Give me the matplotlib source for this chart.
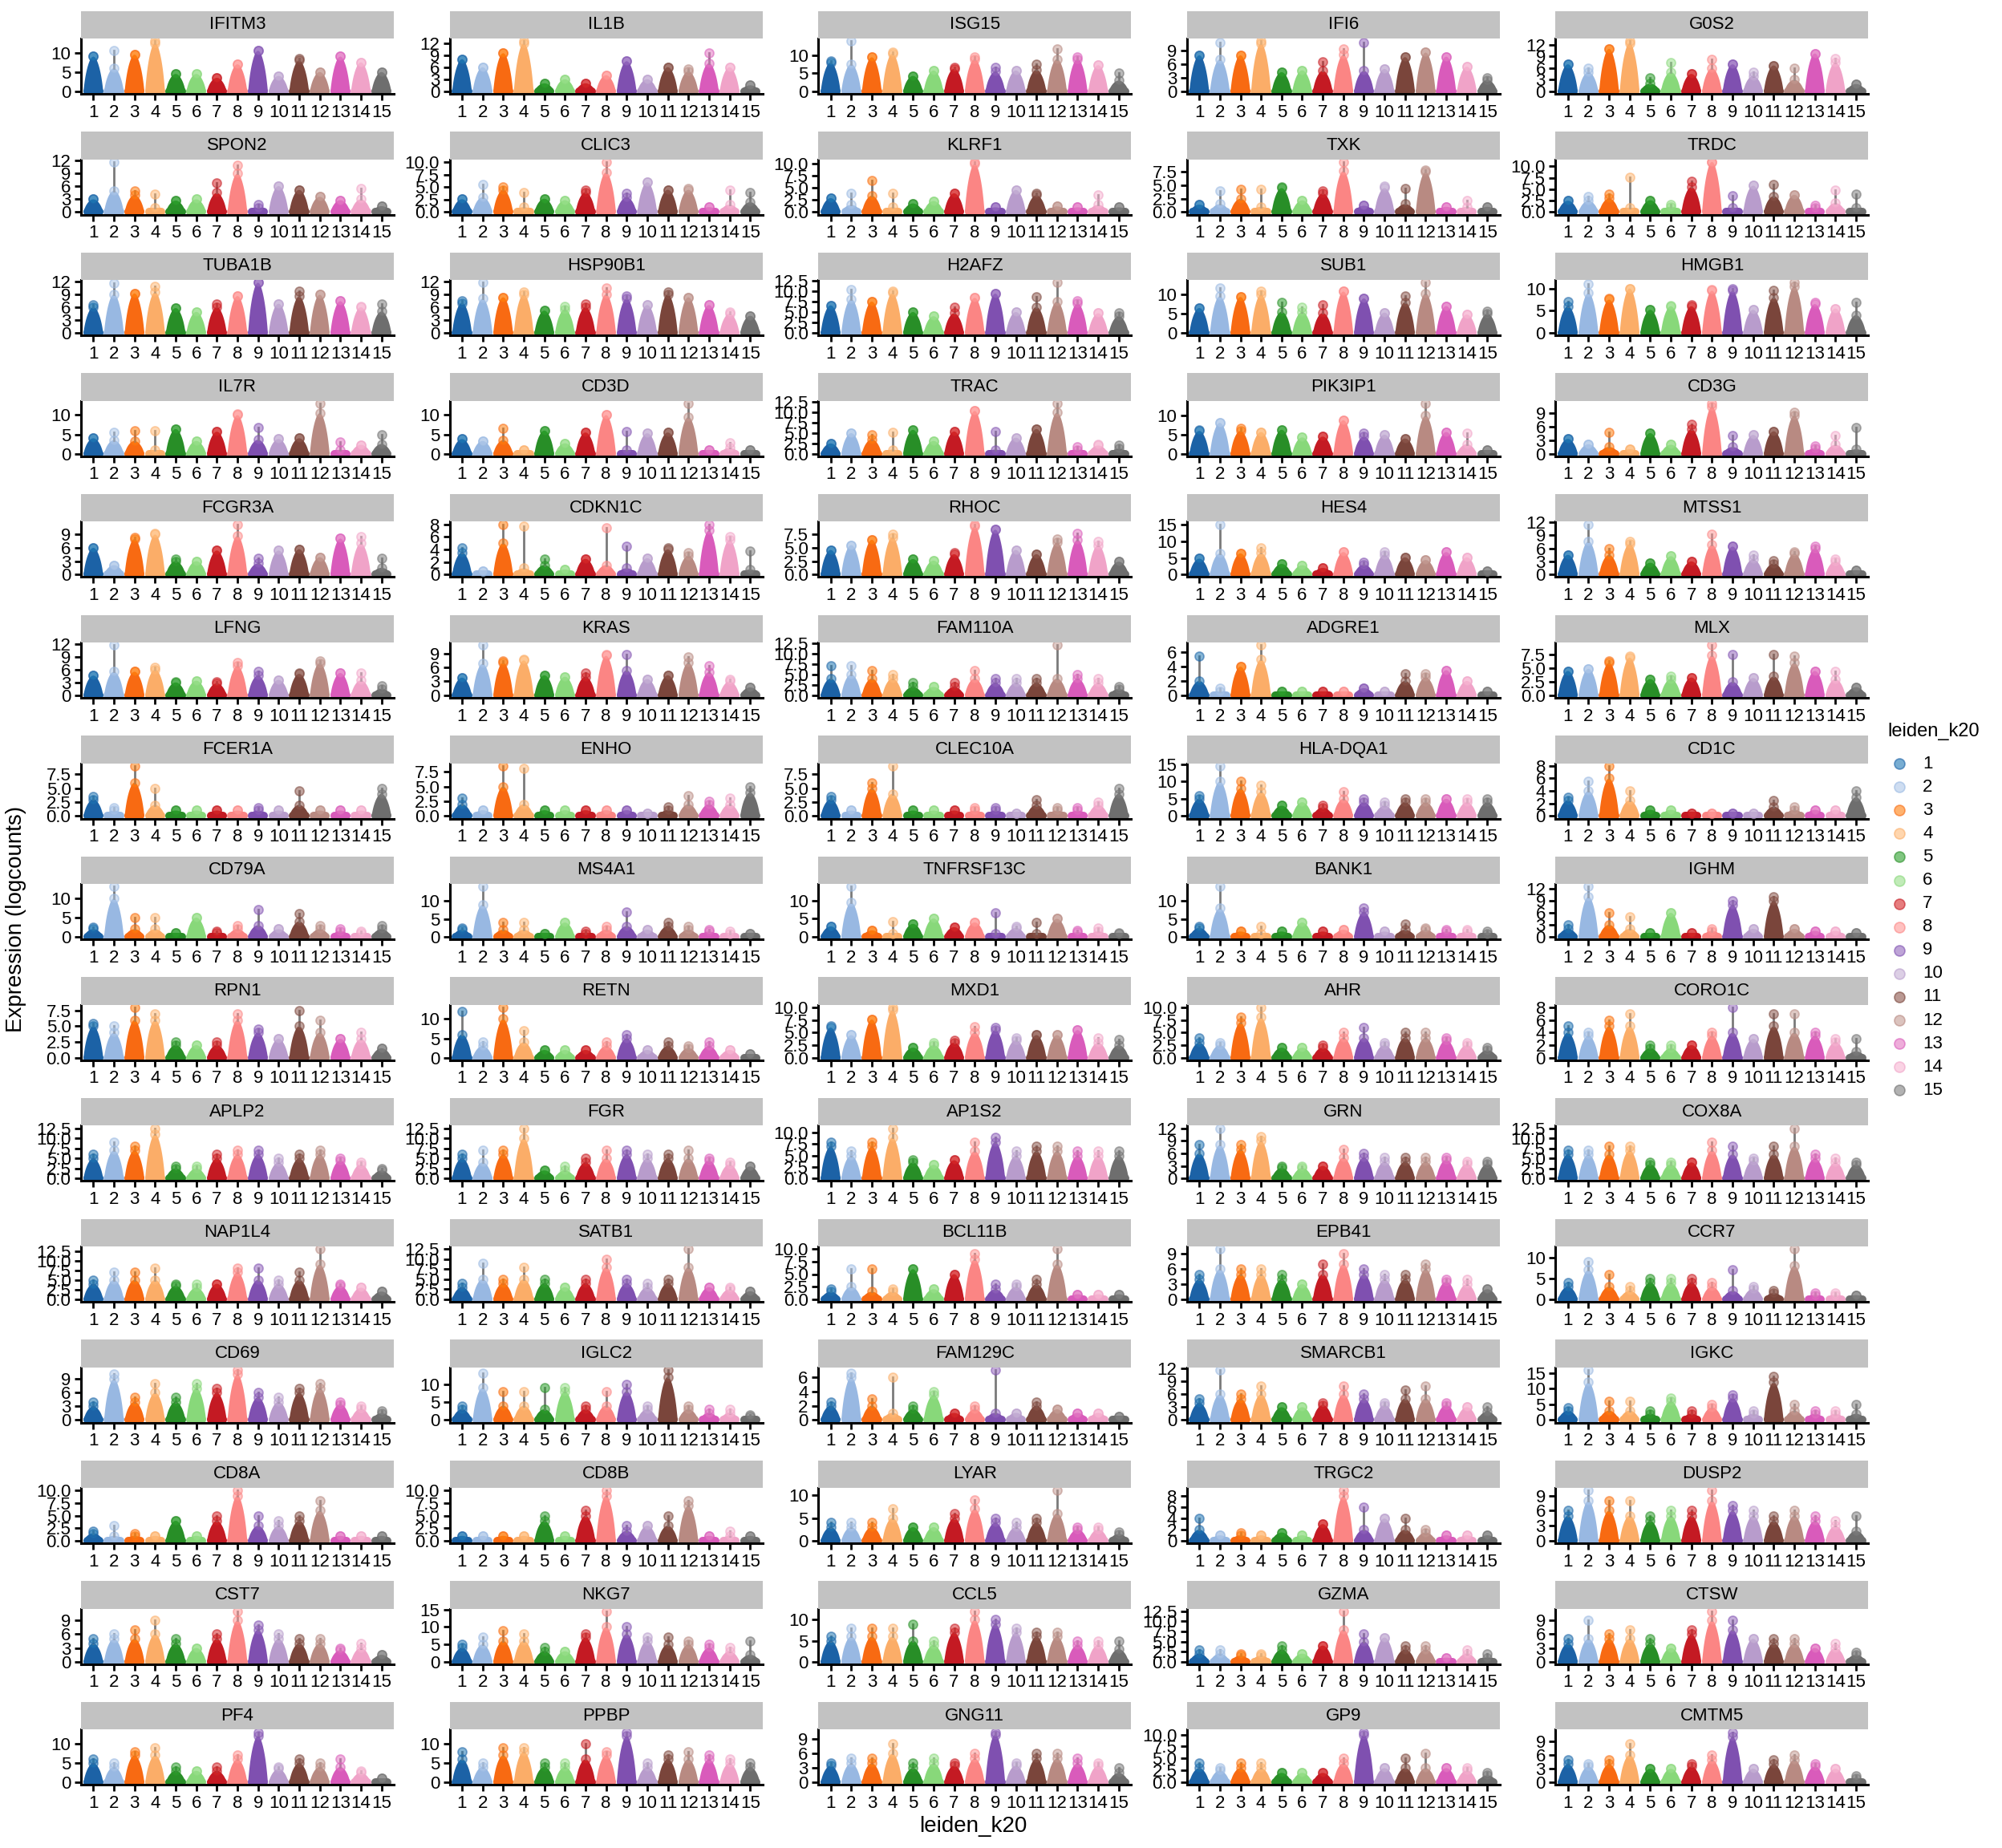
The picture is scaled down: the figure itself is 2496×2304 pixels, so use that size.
import matplotlib
matplotlib.use("Agg")
import matplotlib.pyplot as plt
import numpy as np
from matplotlib.ticker import MultipleLocator, FormatStrFormatter

plt.rcParams['font.family'] = ['Liberation Sans', 'DejaVu Sans']

# === Data ===
clusters = [str(i) for i in range(1, 16)]

genes = ["IFITM3", "IL1B", "ISG15", "IFI6", "G0S2",
         "SPON2", "CLIC3", "KLRF1", "TXK", "TRDC",
         "TUBA1B", "HSP90B1", "H2AFZ", "SUB1", "HMGB1",
         "IL7R", "CD3D", "TRAC", "PIK3IP1", "CD3G",
         "FCGR3A", "CDKN1C", "RHOC", "HES4", "MTSS1",
         "LFNG", "KRAS", "FAM110A", "ADGRE1", "MLX",
         "FCER1A", "ENHO", "CLEC10A", "HLA-DQA1", "CD1C",
         "CD79A", "MS4A1", "TNFRSF13C", "BANK1", "IGHM",
         "RPN1", "RETN", "MXD1", "AHR", "CORO1C",
         "APLP2", "FGR", "AP1S2", "GRN", "COX8A",
         "NAP1L4", "SATB1", "BCL11B", "EPB41", "CCR7",
         "CD69", "IGLC2", "FAM129C", "SMARCB1", "IGKC",
         "CD8A", "CD8B", "LYAR", "TRGC2", "DUSP2",
         "CST7", "NKG7", "CCL5", "GZMA", "CTSW",
         "PF4", "PPBP", "GNG11", "GP9", "CMTM5"]

tick_step = [5, 3, 5, 3, 3,
             3, 2.5, 2.5, 2.5, 2.5,
             3, 3, 2.5, 5, 5,
             5, 5, 2.5, 5, 3,
             3, 2, 2.5, 5, 3,
             3, 3, 2.5, 2, 2.5,
             2.5, 2.5, 2.5, 5, 2,
             5, 5, 5, 5, 3,
             2.5, 5, 2.5, 2.5, 2,
             2.5, 2.5, 2.5, 3, 2.5,
             2.5, 2.5, 2.5, 3, 5,
             3, 5, 2, 3, 5,
             2.5, 2.5, 5, 2, 3,
             3, 5, 5, 2.5, 3,
             5, 5, 3, 2.5, 3]

# highest expression value per cluster (top point)
top_expr = [
    [9, 10.5, 9.5, 13, 4.5, 4.5, 3.5, 7, 10.5, 4, 8.5, 5, 9, 7.5, 5],
    [8, 6, 9.5, 12.5, 2, 3, 2, 4, 7.5, 3, 6, 5.5, 9.5, 6, 1.5],
    [8.4, 14, 9.5, 11, 4.3, 5.8, 6.7, 9.6, 6.7, 5.8, 7.6, 11.9, 9.5, 7.3, 5],
    [7.9, 10.6, 7.9, 11, 4.2, 4.6, 6.5, 9.2, 10.6, 4.9, 7.5, 8.5, 7.6, 5.4, 3],
    [7, 6, 11, 13, 3.5, 7.5, 4.5, 8.3, 7, 5, 6.7, 6, 9.8, 8.5, 1.9],
    [3, 11.75, 4.9, 4.25, 2.7, 3, 6.9, 11, 1.75, 6.1, 5.2, 3.6, 2.8, 5.6, 1.4],
    [2.6, 5.5, 5, 3.9, 2.7, 2.4, 4.4, 10.1, 3.8, 6, 4.5, 4.7, 1, 4.4, 3.9],
    [2.9, 3.9, 6.5, 3.9, 1.8, 2.3, 3.9, 10.4, 1, 4.6, 3.9, 1.2, 1, 3.5, 1],
    [1.4, 3.9, 4.3, 4.3, 4.7, 2.2, 3.9, 9.4, 1.2, 4.8, 4.4, 7.9, 1, 2.2, 1],
    [2.5, 3.5, 4, 7.6, 2.6, 1.7, 6.8, 11, 3.6, 5.8, 6, 3.8, 1.4, 4.9, 3.9],
    [6.5, 11.5, 9.2, 10.8, 5.8, 4.9, 6.8, 8.6, 11.7, 6.8, 9.8, 8.9, 7.4, 6.2, 6.8],
    [7.4, 11.7, 8.3, 9.5, 5.2, 6.2, 6.8, 10.5, 8.6, 6.5, 9.5, 8.3, 6.5, 4.9, 4],
    [6.6, 10.4, 7.5, 10, 5, 4, 6.2, 8.4, 9.4, 5, 8.6, 12, 7.7, 4.7, 4.8],
    [6.5, 11.7, 9.4, 10.8, 8, 6.8, 7.4, 10.8, 9, 5.3, 9.7, 13.1, 7, 4.8, 5.7],
    [7, 11, 7.8, 10, 5.2, 6.2, 6.3, 9.7, 10, 5.2, 9.5, 11.3, 6.8, 5.5, 6.9],
    [4, 5.5, 6, 5.9, 6.4, 3.3, 5.7, 10.3, 6.7, 3.8, 4, 13, 3.1, 2.3, 4.9],
    [3.8, 3.3, 6.5, 1, 6, 2.7, 5.5, 10, 5.8, 5.3, 5.5, 13, 1, 2.8, 1],
    [2.5, 5, 4.6, 5.1, 5.8, 3.1, 5.4, 10.4, 5.4, 3.9, 6, 12.2, 1.7, 2.3, 2],
    [6.3, 8.1, 6.7, 5.7, 6.3, 4.3, 4.5, 8.8, 5.3, 5, 4, 13.2, 5.7, 5.3, 1],
    [3.3, 2.1, 4.7, 1, 4.6, 2, 6.6, 11.2, 4, 4.2, 5, 9.3, 1.7, 4.1, 5.9],
    [6, 2.1, 8.4, 9.3, 3.5, 3, 5.4, 11.3, 3.7, 5.4, 5.7, 3.9, 8.1, 8.5, 3.7],
    [4.25, 0.5, 8, 7.7, 2.5, 0.8, 2.5, 7.4, 4.5, 2.6, 4.2, 3.5, 7.9, 6, 3.7],
    [4.6, 5.5, 6.5, 7.5, 2.9, 2.6, 4.1, 9.4, 8.4, 4.6, 3.8, 6.6, 7.7, 6.2, 2.4],
    [4.8, 15.2, 6.4, 8, 3.2, 2.8, 2, 6.8, 3.6, 6.8, 5.2, 4.4, 6.8, 5.2, 1],
    [4.5, 11.5, 5.9, 7.6, 2.7, 4.2, 3, 9.2, 6.4, 4.5, 3.2, 5.2, 6.4, 3.5, 1],
    [4.6, 11.7, 5.5, 6.5, 3.2, 3.4, 3.2, 7.7, 5.5, 3.6, 5.2, 8, 5.2, 5.2, 2.2],
    [3.8, 10.8, 7.4, 7.7, 4.3, 4, 4.8, 8.8, 8.8, 3.5, 4.3, 8.2, 6.4, 3.5, 1.7],
    [7, 7, 6, 5, 3, 2, 3, 6, 4, 4, 4, 12, 5, 4, 2],
    [5.5, 1, 4, 7, 0.5, 0.5, 0.5, 0.5, 1, 0.5, 3, 3, 3.5, 2, 0.5],
    [4.5, 4.9, 6.4, 7.2, 3, 3.5, 3.3, 9.3, 7.5, 3.2, 7.6, 7.2, 4.5, 4.5, 1.5],
    [3.5, 1.5, 9, 5, 1, 1, 1, 1, 1.5, 1, 4.5, 1, 1, 1, 5],
    [3, 1, 8.5, 8, 1, 1, 1, 1, 1, 0.5, 1.5, 3.5, 2.5, 3, 5],
    [3.5, 1, 6, 9, 1, 1, 1, 1.5, 1.5, 0.5, 3, 1.5, 1.5, 2.5, 5],
    [6, 14.5, 10, 9, 3, 4, 3, 7, 5, 4, 5, 5, 5, 5, 5],
    [3, 5.5, 8, 4, 1, 1, 0.5, 0.5, 0.5, 0.5, 2.5, 1.5, 1, 1, 4],
    [2.5, 13, 5, 5, 1, 5, 1.5, 3, 7, 2, 6, 3, 2, 1.5, 3],
    [2.5, 14, 4, 4, 1, 4, 1.5, 3, 7, 2, 4, 3, 2, 1.5, 1],
    [2.9, 13.9, 1.8, 4.2, 3.6, 5.1, 2.7, 4, 6.6, 2.9, 4, 5, 1.8, 2.4, 1.1],
    [3, 14, 1.5, 3, 1.5, 4, 1.5, 2, 8, 1.5, 3.5, 2.5, 2, 2, 1.5],
    [3, 12.5, 6, 5, 1, 6, 1, 2, 9, 2, 10, 2, 1.5, 1.5, 1],
    [5.5, 5, 8, 7, 2.5, 2, 2.5, 7, 4.5, 3, 7.5, 6, 3, 4, 1.5],
    [12, 4, 13, 7, 2, 2, 2, 4, 6, 2, 4, 3, 4, 2, 1],
    [6.3, 4.5, 7.6, 10, 2, 2.9, 3.5, 6.2, 6, 3.9, 4.5, 4.5, 5.5, 4, 3.6],
    [4, 3, 8, 10, 2, 2, 2.5, 5, 6, 3, 5, 5, 4, 3, 2],
    [5, 4, 6, 7, 2, 2, 2, 4, 8, 3, 7, 7, 4, 3, 3],
    [6, 9, 8, 12.5, 3, 3, 6, 7, 7, 5, 6, 7, 5, 4, 2.5],
    [6, 7, 7, 12.5, 2, 3, 5, 7, 7, 6, 6, 7, 5, 4, 3],
    [8, 6, 8, 11, 4, 3, 4, 8, 9, 6, 7, 7, 6, 6, 6],
    [8, 12, 8, 10, 3, 3, 3, 7, 6, 5, 5, 5, 5, 4, 4],
    [7, 7, 8, 8, 4, 4, 4, 9, 8, 5, 8, 12.5, 6, 5, 4],
    [5, 7, 7, 8, 4, 4, 4, 8, 8, 5, 7, 13, 4, 3, 2],
    [4, 9, 5, 8, 5, 3, 5, 10, 5, 4, 5, 12.5, 3, 3, 2],
    [2, 6, 6, 2, 6, 2, 5, 9, 3, 3, 4, 10, 1, 1, 1],
    [5, 10, 6, 6, 5, 3, 7, 9, 6, 5, 5, 7, 4, 4, 2],
    [4, 9, 6, 3, 5, 5, 5, 4, 7, 3, 2, 12, 1.5, 1.5, 1],
    [4, 10, 5, 8, 5, 8, 7, 11, 6, 5, 7, 8, 4, 3, 2],
    [4, 13, 8, 8, 9, 9, 4, 8, 10, 4, 14, 4, 3, 3, 1.5],
    [2.5, 6.5, 3, 6, 2, 4, 1, 2, 7, 1, 2.5, 1.5, 1, 1, 0.5],
    [5, 11.7, 6, 8, 3, 3, 4, 8, 6, 4, 7, 8, 4, 3, 3],
    [4, 16, 6, 6, 3, 7, 3, 5, 8, 3, 14, 5, 3, 3, 5],
    [2, 3, 1.5, 1, 4, 1, 5, 10, 5, 4, 5, 8, 1, 1, 1],
    [1, 1, 1, 1, 5, 1, 6, 10, 3, 3, 5, 8, 1, 2, 1],
    [4, 4, 4, 7, 3, 3, 6, 9, 5, 4, 5, 11, 3, 3, 2],
    [4, 1, 1.5, 1, 1.5, 1, 3, 9, 6, 4, 4, 2, 1, 1, 1],
    [6, 10, 8, 8, 5, 6, 6, 10, 7, 6, 5, 6, 5, 4, 5],
    [5, 6, 7, 9, 5, 3, 6, 11, 8, 6, 5, 5, 3, 4, 1.5],
    [5, 7, 9, 8, 4, 3, 8, 14.5, 10, 7, 7, 6, 5, 4, 6],
    [6, 8, 8, 8, 9, 5, 8, 12, 10, 8, 7, 7, 5, 5, 5],
    [3, 3, 2, 2, 4, 2, 4, 12.5, 7, 6, 4, 4, 1, 3, 2],
    [5, 9, 6, 7, 5, 3, 7, 11, 9, 5, 5, 5, 3, 4, 2],
    [6, 5, 8, 9, 4, 3, 4, 7, 13, 4, 6, 5, 6, 3, 1],
    [8, 5, 9, 9, 5, 5, 10, 8, 13, 5, 7, 8, 7, 6, 5],
    [4, 5, 5, 8, 4, 5, 4, 6, 10.5, 4, 6, 6, 5, 4, 3],
    [4, 3, 4, 4, 2, 2, 2, 5, 10.5, 3, 5, 6, 3, 3, 2],
    [5, 4, 5, 8.5, 3, 3, 4, 6, 11, 3, 5, 6, 4, 3, 1.5],
]

# height reached by the filled violin body per cluster
body_expr = [
    [9, 6, 9.5, 12.5, 4.5, 4.5, 3.5, 7, 10.5, 4, 8, 5, 9, 7.5, 5],
    [8, 6, 9.5, 12, 2, 3, 2, 4, 7.5, 3, 6, 5, 7, 6, 1.5],
    [8, 7.6, 9.5, 10.5, 4.3, 5.8, 6.3, 9, 5.5, 5.8, 6, 9, 9, 7.3, 3],
    [7.9, 7, 7.9, 10.5, 4.2, 4.6, 4.5, 8, 4.5, 4.9, 7.5, 8.5, 7.6, 5.4, 2.5],
    [7, 5, 11, 12.5, 2, 5, 4.5, 6, 7, 4, 6.7, 3, 9.8, 7.5, 1.9],
    [3, 5, 4, 1, 2.7, 3, 4.5, 9, 1, 6.1, 5.2, 3.6, 2.8, 3, 1.4],
    [2.6, 3, 4.5, 1, 2.7, 2.4, 4, 8, 3, 6, 4.5, 4.5, 1, 1.5, 2],
    [2.9, 1.5, 3.4, 1, 1.8, 2.3, 3.9, 10, 1, 4.6, 3.5, 1.2, 1, 1.5, 1],
    [1.4, 1.5, 2.5, 1, 4.5, 2.2, 3.5, 7.7, 1.2, 4.5, 1.5, 7.5, 1, 1, 1],
    [2.5, 2.5, 3, 1, 2.6, 1.2, 5.5, 11, 1, 5.8, 3.5, 3.8, 1, 2, 1],
    [6, 9, 9.2, 9.5, 5.8, 4.9, 6, 8.6, 11.7, 6.8, 8.5, 8.9, 7.4, 6, 5],
    [7, 8, 8.3, 9, 5.2, 5.5, 6, 9, 8, 6.5, 9, 8.3, 6.5, 4.5, 4],
    [6.6, 8.1, 7.5, 9.5, 5, 4, 4.7, 8.4, 9.4, 5, 6.2, 7.5, 7, 4.7, 4],
    [6.5, 9.6, 9.4, 10, 5.5, 5.5, 5.2, 10.8, 9, 5.3, 8, 10.3, 7, 4.8, 5],
    [6, 9, 7.5, 10, 5.2, 6, 6, 9.5, 9.5, 5.2, 8, 10.5, 6.5, 5.5, 4],
    [4, 3.5, 3.3, 1, 6.4, 3.3, 5.7, 10, 3.6, 3.8, 4, 10.5, 1, 2.3, 2.5],
    [3.8, 3.3, 3.5, 1, 6, 2.7, 5.5, 10, 1, 5.3, 5.5, 9.5, 1, 1.5, 1],
    [2.5, 5, 3.5, 1, 5.8, 3.1, 5.4, 10.4, 1, 3.9, 6, 10, 1, 2, 1.2],
    [6, 8.1, 6, 5.7, 6.3, 4.3, 4.5, 8.8, 4.5, 5, 4, 10, 5.7, 2.5, 1],
    [3.3, 2.1, 1.5, 1, 4.6, 2, 5.5, 10.5, 1.5, 4.2, 5, 8.5, 1.2, 2, 1],
    [6, 2.1, 8, 9, 3, 3, 5.4, 8.7, 2.5, 5.4, 5.7, 3.9, 8.1, 7, 1.5],
    [3.5, 0.5, 5, 1, 1.5, 0.8, 2.5, 1.5, 1, 2.6, 4, 3, 7, 5.5, 0.8],
    [4.6, 5.5, 6.5, 7, 2.9, 2.6, 3.8, 9, 8.4, 4.6, 3.8, 6, 6.5, 5.5, 2.4],
    [4.8, 6.4, 6.4, 6.5, 3.2, 2.8, 2, 6.8, 3, 6, 5.2, 4.4, 6.8, 5.2, 1],
    [4.5, 7.6, 4.5, 7, 2.7, 4.2, 3, 6.8, 6.4, 3.5, 2.5, 4.8, 6, 3, 1],
    [4.6, 5.5, 5.5, 6, 3, 3.4, 2.8, 6.8, 4.6, 3.6, 5, 7.5, 5.2, 3.5, 1.5],
    [3.8, 6.8, 7, 7.5, 4.3, 4, 4, 8.5, 5.4, 3.5, 4.3, 7, 5, 3, 1.7],
    [4, 5, 4, 4, 2, 2, 2, 4, 3, 3, 3, 4, 4, 3, 1.5],
    [2, 0.5, 4, 5, 0.5, 0.5, 0.5, 0.5, 1, 0.5, 2, 2.5, 3.5, 2, 0.5],
    [4.5, 4.9, 6, 7, 3, 3, 3.3, 7.4, 2.5, 3.2, 3.5, 6, 4.5, 3, 1.5],
    [3, 1, 6, 2, 1, 1, 1, 1, 1, 1, 2, 1, 1, 1, 4],
    [2, 1, 5, 2, 1, 1, 1, 1, 1, 0.5, 1, 2, 2, 2, 4],
    [3, 1, 5, 4, 1, 1, 1, 1, 1, 0.5, 2, 1, 1, 2, 4],
    [5, 10, 8, 7, 3, 4, 2.5, 5, 4, 3, 4, 4, 5, 4, 4],
    [2.5, 4, 6, 2.5, 1, 1, 0.5, 0.5, 0.5, 0.5, 1.5, 1, 1, 1, 3],
    [2, 10, 2, 2, 1, 5, 1, 2, 3, 2, 4, 2, 1.5, 1, 2],
    [2, 9, 2, 2, 1, 4, 1, 2, 3, 2, 3, 2, 1.5, 1, 1],
    [2.9, 9.5, 1.8, 1, 3.6, 5.1, 2.7, 4, 1, 2.5, 1, 5, 1.3, 1.5, 1],
    [2.5, 8, 1.5, 1, 1.5, 4, 1.5, 2, 7, 1.5, 2, 2, 1.5, 1.5, 1],
    [2, 10, 3, 2, 1, 6, 1, 1.5, 8, 2, 9, 2, 1.5, 1.5, 1],
    [5, 4, 6, 6, 2, 2, 2, 6, 4, 3, 5, 4, 3, 3, 1.5],
    [6, 3, 10, 4, 2, 2, 2, 3, 5, 2, 3, 2.5, 3, 2, 1],
    [6, 4.5, 7.6, 9.5, 2, 2.5, 3, 5, 5.5, 3.5, 4.5, 4.5, 5.5, 3, 2.5],
    [3, 2.5, 7, 8, 2, 2, 2, 4, 4, 2.5, 4, 4, 3.5, 2.5, 1.5],
    [4, 3.5, 5, 5, 1.5, 1.5, 2, 3.5, 4, 3, 5, 4, 3.5, 2.5, 1],
    [5, 7, 7, 11, 2.5, 2.5, 5, 6, 6, 4, 5, 6, 4.5, 3.5, 2],
    [5, 4, 6, 10, 2, 2, 4, 5, 6, 5, 5, 5, 4.5, 3.5, 3],
    [7, 5, 7, 9, 3.5, 3, 4, 6, 8, 5, 6, 6, 5, 5, 5],
    [6, 8, 7, 9, 2.5, 2.5, 3, 5, 5, 4, 4, 4, 4.5, 3.5, 3.5],
    [6, 6, 6, 7, 3.5, 3.5, 4, 7, 6, 4.5, 6, 8, 5, 4, 3.5],
    [4, 5, 5, 5, 3.5, 3, 4, 7, 5, 4, 5, 9, 3.5, 3, 2],
    [3, 5, 4, 5, 4, 3, 4, 8, 4, 3, 4, 8, 3, 2.5, 2],
    [1.5, 2.5, 1.5, 1.5, 6, 2, 5, 8, 2, 2.5, 3, 7, 1, 1, 1],
    [4, 6, 5, 5, 4, 3, 5, 7, 5, 4, 4, 6, 3.5, 3, 2],
    [3, 7, 3, 2, 4, 4, 4, 3, 2, 2.5, 1.5, 8, 1, 1, 1],
    [3, 9, 4, 6, 4, 7, 6, 10, 5, 4, 6, 7, 3.5, 2.5, 1.5],
    [3, 9, 4, 4, 3, 8, 3, 4, 8, 3, 12, 3, 2, 2, 1],
    [2, 6, 2, 1, 1.5, 3.5, 1, 1.5, 1, 1, 2, 1.5, 1, 1, 0.5],
    [4, 6, 5, 6, 3, 3, 3.5, 6, 5, 3.5, 5, 5, 3.5, 3, 2],
    [3, 12, 3, 3, 2, 6, 2, 4, 7, 2, 12, 3, 2, 2, 2],
    [1.5, 1, 1, 1, 4, 1, 4, 9, 3, 3, 4, 6, 1, 1, 1],
    [1, 1, 1, 1, 4, 1, 5, 9, 2, 3, 3, 7, 1, 1, 1],
    [3, 3, 3, 5, 3, 3, 5, 7, 4, 3, 4, 6, 2.5, 2.5, 1.5],
    [2, 1, 1, 1, 1.5, 1, 3, 8, 2, 4, 2, 1.5, 1, 1, 1],
    [5, 8, 6, 5, 4, 5, 5, 8, 6, 5, 4, 5, 4, 3, 2],
    [4, 5, 5, 6, 4, 3, 5, 9, 7, 5, 4, 4, 2.5, 3, 1.5],
    [4, 5, 6, 6, 3, 3, 7, 10, 8, 6, 5, 5, 4, 3, 2],
    [5, 6, 6, 6, 5, 4, 7, 10, 9, 7, 6, 6, 4, 4, 3],
    [2, 2, 1.5, 1.5, 3, 2, 4, 8, 5, 6, 3, 3, 1, 2, 1],
    [4, 5, 5, 5, 4, 3, 6, 9, 7, 5, 4, 4, 3, 3, 1.5],
    [5, 4, 7, 7, 3, 3, 3, 6, 12, 3.5, 5, 4, 4, 2.5, 1],
    [6, 4, 7, 8, 4, 4, 6, 7, 12, 4, 6, 6, 6, 5, 4],
    [3.5, 4, 4, 6, 3, 4, 3.5, 5, 10, 3.5, 5, 5, 4, 3.5, 2],
    [3, 2.5, 3, 3, 2, 2, 2, 4, 10, 3, 3, 3, 3, 2.5, 1.5],
    [4, 3.5, 4, 6, 3, 3, 3.5, 5, 10, 3, 4, 5, 3.5, 3, 1],
]

# === Colours ===
point_colors = ["#1f77b4", "#aec7e8", "#ff7f0e", "#ffbb78", "#2ca02c",
                "#98df8a", "#d62728", "#ff9896", "#9467bd", "#c5b0d5",
                "#8c564b", "#c49c94", "#e377c2", "#f7b6d2", "#7f7f7f"]
violin_colors = ["#1c62a6", "#98b8e2", "#f86a12", "#fbad68", "#288e27",
                 "#88d87a", "#c41a23", "#fb8584", "#7f50b0", "#b89ccc",
                 "#7a453b", "#b88a82", "#d95bbb", "#f0a3c8", "#6e6e6e"]

# === Layout (pixel units of the 2496x2304 output) ===
W, H = 2496, 2304
DPI = 200
fig = plt.figure(figsize=(W / DPI, H / DPI), dpi=DPI)

panel_w, panel_h, strip_h = 390, 69, 34.5
col_left = [101 + 459.6 * c for c in range(5)]
row_top = [48 + 150.6 * r for r in range(15)]


def px_rect(left, top, width, height):
    return [left / W, 1 - (top + height) / H, width / W, height / H]


def violin_body(xc, body):
    ys = np.linspace(0, body, 60)
    t = ys / body
    hw = 0.48 * (1 - 0.4 * t) * np.sqrt(np.clip(1 - t ** 3, 0, 1))
    xs = np.concatenate([xc - hw, (xc + hw)[::-1]])
    yy = np.concatenate([ys, ys[::-1]])
    return xs, yy


x_pos = np.arange(1, 16)

for g, gene in enumerate(genes):
    r, c = divmod(g, 5)
    left, top = col_left[c], row_top[r]
    ax = fig.add_axes(px_rect(left, top, panel_w, panel_h))
    tops = top_expr[g]
    bodies = body_expr[g]
    ymax = max(tops)

    for i in range(15):
        xc = x_pos[i]
        xs, yy = violin_body(xc, bodies[i])
        ax.fill(xs, yy, color=violin_colors[i], lw=0, zorder=2)
        # zero-count band
        ax.plot([xc - 0.3, xc + 0.3], [0, 0], color=violin_colors[i],
                lw=3.6, solid_capstyle='round', zorder=2)
        if tops[i] > bodies[i] + 0.3:
            ax.plot([xc, xc], [bodies[i], tops[i]], color='#7a7a7a',
                    lw=1.0, zorder=3)
        ax.scatter([xc, xc], [bodies[i], tops[i]], s=16,
                   color=point_colors[i], alpha=0.55, lw=0.6,
                   edgecolor=violin_colors[i], zorder=4)

    ax.set_xlim(0.4, 15.6)
    ax.set_ylim(-0.05 * ymax, 1.05 * ymax)
    ax.set_xticks(x_pos)
    ax.set_xticklabels(clusters)
    step = tick_step[g]
    ax.yaxis.set_major_locator(MultipleLocator(step))
    if step % 1:
        ax.yaxis.set_major_formatter(FormatStrFormatter('%.1f'))
    else:
        ax.yaxis.set_major_formatter(FormatStrFormatter('%d'))
    for side in ['top', 'right']:
        ax.spines[side].set_visible(False)
    for side in ['left', 'bottom']:
        ax.spines[side].set_linewidth(1.1)
    ax.tick_params(axis='both', direction='out', length=3, width=1.0,
                   labelsize=8, pad=1.5, colors='black')
    ax.patch.set_alpha(0)

    sax = fig.add_axes(px_rect(left, top - strip_h, panel_w, strip_h))
    sax.set_facecolor('#c2c2c2')
    sax.set_xticks([])
    sax.set_yticks([])
    for sp in sax.spines.values():
        sp.set_visible(False)
    sax.text(0.5, 0.5, gene, ha='center', va='center', fontsize=8,
             transform=sax.transAxes)

# === Figure-level labels and legend ===
lax = fig.add_axes([0, 0, 1, 1], zorder=-1)
lax.set_xlim(0, W)
lax.set_ylim(H, 0)
lax.axis('off')

lax.text(20, 1146, "Expression (logcounts)", rotation=90, ha='center',
         va='center', fontsize=10)
lax.text(1213, 2277, "leiden_k20", ha='center', va='center', fontsize=10)

lax.text(2353, 912, "leiden_k20", ha='left', va='center', fontsize=8.5)
for i, lab in enumerate(clusters):
    y = 952 + 29.1 * i
    lax.scatter([2368], [y], s=22, color=point_colors[i], alpha=0.6,
                edgecolor=violin_colors[i], lw=0.6)
    lax.text(2397, y, lab, ha='left', va='center', fontsize=8)

fig.savefig("out.png", dpi=DPI)
